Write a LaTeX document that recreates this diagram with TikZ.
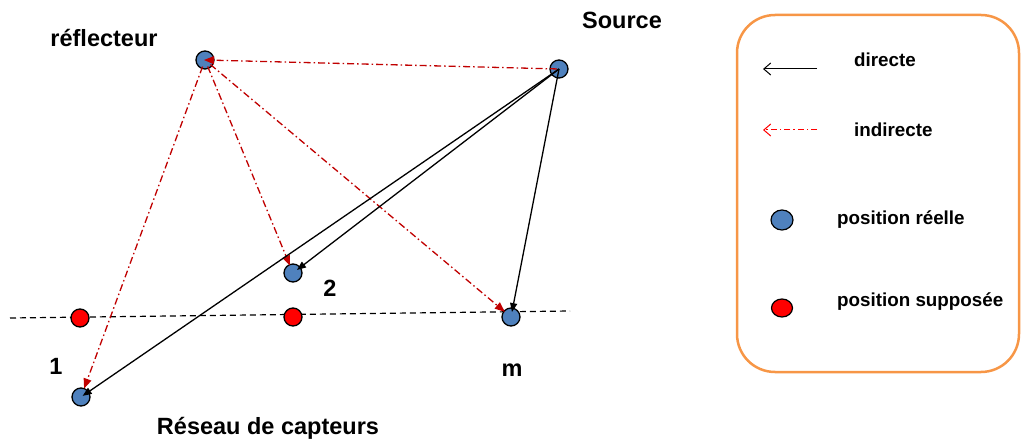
\documentclass[tikz,border=0pt]{standalone}
\usepackage{fontspec}
\setmainfont{Liberation Sans}
\usetikzlibrary{arrows.meta,shapes.geometric}
\definecolor{realblue}{HTML}{4F81BD}
\definecolor{darkred}{HTML}{C00000}
\definecolor{legorange}{HTML}{F79646}
\tikzset{
  real/.style={circle,draw=black,line width=1.3pt,fill=realblue,minimum size=18pt,inner sep=0pt},
  supp/.style={circle,draw=black,line width=1.3pt,fill=red,minimum size=18pt,inner sep=0pt},
  biglabel/.style={font=\fontsize{23.5}{28}\selectfont\bfseries,inner sep=0pt,anchor=base},
  leglabel/.style={font=\fontsize{18.8}{22}\selectfont\bfseries,inner sep=0pt,anchor=base west},
  direct/.style={draw=black,line width=1.3pt,-{Triangle[length=9pt,width=7pt]}},
  indirect/.style={draw=darkred,line width=1.3pt,dash pattern=on 7pt off 3pt on 1.5pt off 3pt,-{Triangle[length=10pt,width=8pt,fill=darkred]}},
  legdirect/.style={draw=black,line width=1pt,-{Straight Barb[length=7pt,width=12pt]}},
  legindirect/.style={draw=red,line width=1pt,dash pattern=on 6pt off 3pt on 1.5pt off 3pt,-{Straight Barb[length=7pt,width=12pt]}},
}
\begin{document}
\begin{tikzpicture}[x=1pt,y=-1pt]
\useasboundingbox (0,0) rectangle (1021,441);
% sensor line
\coordinate (lineL) at (10,318);
\coordinate (lineR) at (570,311);
\draw[black,line width=1.2pt,dash pattern=on 6pt off 4pt] (lineL) -- (lineR);
% nodes
\node[real] (R) at (205,60) {};
\node[real] (S) at (559,69) {};
\node[real] (n2) at (293,273) {};
\node[real] (nm) at (511,317) {};
\node[real] (n1) at (81,397) {};
\node[supp] (p1) at (80,318) {};
\node[supp] (p2) at (293,317) {};
% labels
\node[biglabel] (lR) at (104,47) {réflecteur};
\node[biglabel] (lS) at (622,29) {Source};
\node[biglabel] (l2) at (330,296) {2};
\node[biglabel] (l1) at (56,374) {1};
\node[biglabel] (lm) at (512,376) {m};
\node[biglabel] (lres) at (268,434) {Réseau de capteurs};
% indirect paths
\draw[indirect,shorten >=-1pt,shorten <=2pt] (S.center) -- (R.center);
\draw[indirect,shorten <=7pt,shorten >=9pt] (R.center) -- (n1.center);
\draw[indirect,shorten <=7pt,shorten >=8pt] (R.center) -- (n2.center);
\draw[indirect,shorten <=7pt,shorten >=8pt] (R.center) -- (nm.center);
% direct paths
\draw[direct,shorten >=2pt] (S.center) -- (n1.center);
\draw[direct,shorten >=5pt] (S.center) -- (n2.center);
\draw[direct,shorten >=5pt] (S.center) -- (nm.center);
% legend
\draw[legorange,line width=2.5pt,rounded corners=38pt] (737,15) rectangle (1019,372);
\coordinate (a1s) at (817,69);
\coordinate (a1e) at (763,69);
\draw[legdirect] (a1s) -- (a1e);
\node[leglabel] (t1) at (854,67) {directe};
\coordinate (a2s) at (817,130);
\coordinate (a2e) at (763,130);
\draw[legindirect] (a2s) -- (a2e);
\node[leglabel] (t2) at (854,137) {indirecte};
\node[ellipse,draw=black,line width=1.2pt,fill=realblue,minimum width=22pt,minimum height=20pt,inner sep=0pt] (e1) at (782,220) {};
\node[leglabel] (t3) at (837,225) {position réelle};
\node[ellipse,draw=black,line width=1.2pt,fill=red,minimum width=21pt,minimum height=18pt,inner sep=0pt] (e2) at (782,308) {};
\node[leglabel] (t4) at (837,306) {position supposée};
\end{tikzpicture}
\end{document}
